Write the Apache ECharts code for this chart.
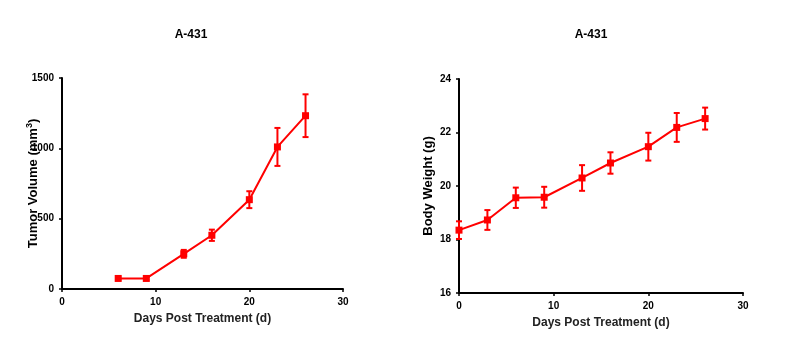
<!DOCTYPE html>
<html><head><meta charset="utf-8">
<script src="https://cdn.jsdelivr.net/npm/echarts@6/dist/echarts.min.js"></script>
<style>html,body{margin:0;padding:0;background:#fff}#c{width:793px;height:361px}</style>
</head><body><div id="c"></div>
<script>
const title = "A-431";
const tumorDays = [6, 9, 13, 16, 20, 23, 26];
const tumorVolume = [75, 75, 250, 382, 635, 1010, 1232];
const tumorErr = [10, 10, 28, 40, 60, 135, 152];
const weightDays = [0, 3, 6, 9, 13, 16, 20, 23, 26];
const bodyWeight = [18.35, 18.73, 19.56, 19.58, 20.3, 20.86, 21.47, 22.19, 22.52];
const weightErr = [0.33, 0.37, 0.38, 0.39, 0.48, 0.4, 0.52, 0.54, 0.41];
const xTicks = [0, 10, 20, 30];
const tumorTicks = [0, 500, 1000, 1500];
const weightTicks = [16, 18, 20, 22, 24];

const RED = '#ff0000';
const FONT = 'Liberation Sans, Arial, sans-serif';

function pairs(xs, ys) { return xs.map((x, i) => [x, ys[i]]); }
function errData(xs, ys, es) { return xs.map((x, i) => [x, ys[i] - es[i], ys[i] + es[i]]); }

function errRender(params, api) {
  const x = api.value(0);
  const lo = api.coord([x, api.value(1)]);
  const hi = api.coord([x, api.value(2)]);
  const w = 3;
  const st = { stroke: RED, lineWidth: 2 };
  return { type: 'group', children: [
    { type: 'line', shape: { x1: lo[0], y1: lo[1], x2: hi[0], y2: hi[1] }, style: st },
    { type: 'line', shape: { x1: lo[0] - w, y1: lo[1], x2: lo[0] + w, y2: lo[1] }, style: st },
    { type: 'line', shape: { x1: hi[0] - w, y1: hi[1], x2: hi[0] + w, y2: hi[1] }, style: st }
  ]};
}

function xAxis(gi) {
  return {
    gridIndex: gi, type: 'value', min: xTicks[0], max: xTicks[xTicks.length - 1], interval: 10,
    name: 'Days Post Treatment (d)', nameLocation: 'middle', nameGap: 24, nameMoveOverlap: false,
    nameTextStyle: { fontFamily: FONT, fontSize: 12, fontWeight: 'bold', color: '#222' },
    axisLine: { show: true, onZero: false, lineStyle: { color: '#000', width: 2 } },
    axisTick: { show: true, length: 3, lineStyle: { color: '#000', width: 1.5 } },
    axisLabel: { fontFamily: FONT, fontSize: 10, fontWeight: 'bold', color: '#000', margin: 8,
      formatter: v => String(v) },
    splitLine: { show: false }
  };
}
function yAxis(gi, ticks, name, gap) {
  return {
    gridIndex: gi, type: 'value', min: ticks[0], max: ticks[ticks.length - 1], interval: ticks[1] - ticks[0],
    name: name, nameLocation: 'middle', nameGap: gap, nameRotate: 90, nameMoveOverlap: false,
    nameTextStyle: { fontFamily: FONT, fontSize: 13, fontWeight: 'bold', color: '#000',
      rich: {
        a: { fontFamily: FONT, fontSize: 13, fontWeight: 'bold', color: '#000', lineHeight: 16 },
        s: { fontFamily: FONT, fontSize: 9, fontWeight: 'bold', color: '#000', verticalAlign: 'top', lineHeight: 16 }
      } },
    axisLine: { show: true, onZero: false, lineStyle: { color: '#000', width: 2 } },
    axisTick: { show: true, length: 3, lineStyle: { color: '#000', width: 1.5 } },
    axisLabel: { fontFamily: FONT, fontSize: 10, fontWeight: 'bold', color: '#000', margin: 8,
      formatter: v => String(v) },
    splitLine: { show: false }
  };
}

const chart = echarts.init(document.getElementById('c'), null, { renderer: 'canvas' });
chart.setOption({
  animation: false,
  backgroundColor: '#fff',
  title: [
    { text: title, left: 186, top: 24, textAlign: 'center', textStyle: { fontFamily: FONT, fontSize: 12, fontWeight: 'bold', color: '#000' } },
    { text: title, left: 586, top: 24, textAlign: 'center', textStyle: { fontFamily: FONT, fontSize: 12, fontWeight: 'bold', color: '#000' } }
  ],
  grid: [
    { left: 62, top: 78, width: 281, height: 211 },
    { left: 459, top: 79, width: 284, height: 214 }
  ],
  xAxis: [xAxis(0), xAxis(1)],
  yAxis: [
    yAxis(0, tumorTicks, '{a|Tumor Volume (mm}{s|3}{a|)}', 21),
    yAxis(1, weightTicks, '{a|Body Weight (g)}', 23)
  ],
  series: [
    { type: 'line', xAxisIndex: 0, yAxisIndex: 0, data: pairs(tumorDays, tumorVolume),
      symbol: 'rect', symbolSize: 7, lineStyle: { color: RED, width: 2 }, itemStyle: { color: RED }, z: 3 },
    { type: 'custom', xAxisIndex: 0, yAxisIndex: 0, data: errData(tumorDays, tumorVolume, tumorErr),
      renderItem: errRender, z: 2 },
    { type: 'line', xAxisIndex: 1, yAxisIndex: 1, data: pairs(weightDays, bodyWeight),
      symbol: 'rect', symbolSize: 7, lineStyle: { color: RED, width: 2 }, itemStyle: { color: RED }, z: 3 },
    { type: 'custom', xAxisIndex: 1, yAxisIndex: 1, data: errData(weightDays, bodyWeight, weightErr),
      renderItem: errRender, z: 2 }
  ]
});
</script></body></html>
